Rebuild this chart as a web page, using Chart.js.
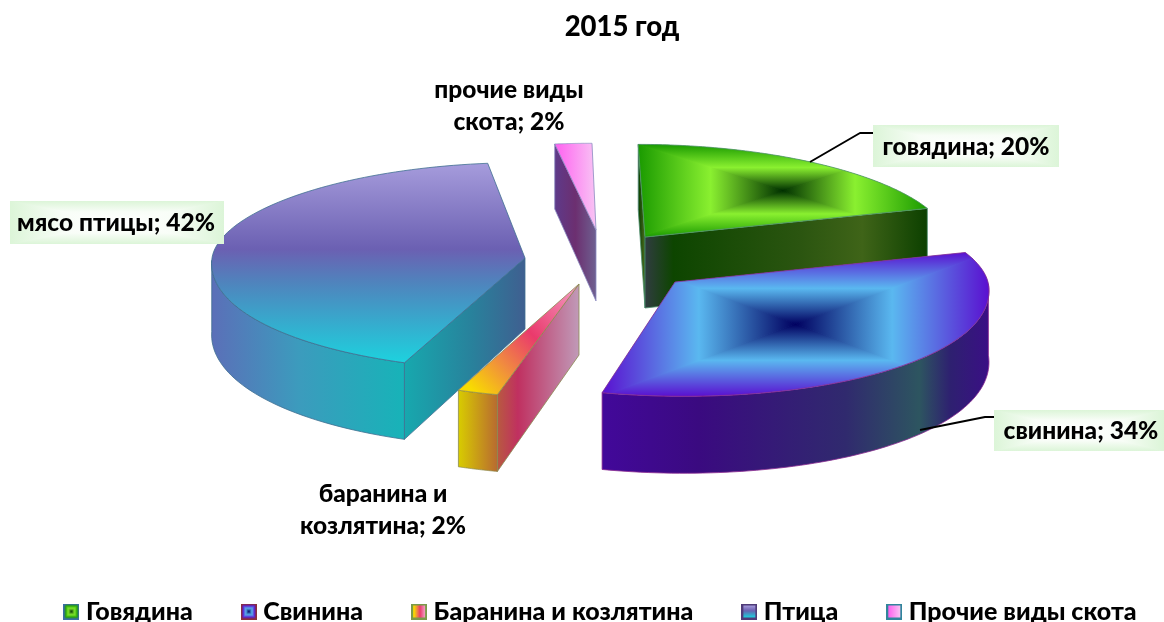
<!DOCTYPE html>
<html><head><meta charset="utf-8">
<style>html,body{margin:0;padding:0;background:#fff}canvas{display:block}</style>
<script src="https://cdn.jsdelivr.net/npm/chart.js@4"></script>
</head><body>
<canvas id="c" width="1164" height="622"></canvas>
<script>
const chartTitle = '2015 год';
const categories = ['Говядина','Свинина','Баранина и козлятина','Птица','Прочие виды скота'];
const shares = [20,34,2,42,2];
const pointNames = ['говядина','свинина','баранина и козлятина','мясо птицы','прочие виды скота'];
const baseColors = ['#3fae14','#4a6fe0','#e8604a','#6d62b4','#f878ee'];

const FONT = 'Lato, "Open Sans", sans-serif';
// exploded-slice look, applied on top of the arcs Chart.js computes
const sliceShift = [[39,-23],[69,22],[-27,24],[-81,-2],[-10,-30]];
const sliceScale = [0.97,1,1,1,1];
const sliceSkew  = [7,9,0,0,4];
const backTilt   = [0.305,0.305,0.305,0.305,0.277];
const frontTilt  = [0.365,0.365,0.365,0.36,0.365];
const drawOrder  = [4,0,3,2,1];
const looks = [
 {top:{ring:['#1a9a00','#8af030','#003000']}, wall:[[0,'#0c4000'],[.55,'#2b5510'],[.75,'#3f6418'],[1,'#0c4000']], cut:[[0,'#303c40'],[.1,'#0d4500'],[.55,'#2b5510'],[.77,'#3f6418'],[1,'#0c4000']], edge:'#4f8f70'},
 {top:{ring:['#5a10d0','#5ab8f0','#000060']}, wall:[[0,'#42089a'],[.25,'#3a0a80'],[.63,'#302a6e'],[.82,'#2d5560'],[.9,'#2e2070'],[1,'#3a0f85']], cut:[[0,'#3a0a80'],[1,'#3a0a80']], edge:'#8a2a90'},
 {top:{lin:[0.3,[[0.08,'#f8dc00'],[.33,'#f08a40'],[.58,'#ea3a6c'],[1,'#f4a0c8']]]}, wall:[[0,'#d8cc00'],[1,'#b86a30']], cut:[[0,'#b85a40'],[.25,'#c03060'],[1,'#c09ab8']], edge:'#8a8a50'},
 {top:{lin:[1,[[0,'#a69cdc'],[.43,'#6b60b2'],[.6,'#4f84bd'],[1,'#1dd2de']]]}, wall:[[0,'#5b6fb8'],[.45,'#3c9bbd'],[1,'#17b3b8']], cut:[[0,'#17a8ae'],[.55,'#28829c'],[1,'#3f5f90']], edge:'#3f6f90'},
 {top:{lin:[0,[[0,'#ff60f0'],[1,'#f8c4f4']]]}, wall:[[0,'#6c2f70'],[1,'#6c2f70']], cut:[[0,'#5e3a8a'],[.5,'#6c2f70'],[1,'#6e6090']], edge:'#8a8ac0'}
];
// label placement: [box x, y, w, h] or null, text centre, lines, leader
const labelBoxes = [[873,125,186,42],[994,410,170,41],null,[10,201,214,43],null];
const labelCentres = [[966,147],[1081,431],[383,494],[116,223],[509,90]];
const labelWrap = [[0],[0],['баранина и','козлятина; 2%'],[0],['прочие виды','скота; 2%']];
const leaders = [[[810,162],[860,133],[873,133]],[[920,430],[985,417],[994,417]],null,null,null];

function project(arc,i,a,z){
  const r=arc.outerRadius, s=sliceScale[i];
  const dx=r*Math.cos(a)*s, dy=r*Math.sin(a)*s;
  const q=dy/r, k=dy<0?backTilt[i]:frontTilt[i];
  return [arc.x+sliceShift[i][0]+dx*(1+0.05*q)+sliceSkew[i]*q,
          arc.y+sliceShift[i][1]+dy*k+z*(71+6*q)];
}
function apex(arc,i,z){
  return [arc.x+sliceShift[i][0], arc.y+sliceShift[i][1]+z*71];
}
function poly(ctx,pts){ctx.beginPath();pts.forEach((p,j)=>j?ctx.lineTo(p[0],p[1]):ctx.moveTo(p[0],p[1]));ctx.closePath();}
function bbox(pts){const xs=pts.map(p=>p[0]),ys=pts.map(p=>p[1]);return [Math.min(...xs),Math.min(...ys),Math.max(...xs),Math.max(...ys)];}
function xGrad(ctx,pts,stops){const b=bbox(pts);const g=ctx.createLinearGradient(b[0],0,b[2],0);stops.forEach(s=>g.addColorStop(s[0],s[1]));return g;}
function rectGradient(ctx,x0,y0,x1,y1,c){
  const cx=(x0+x1)/2,cy=(y0+y1)/2;
  ctx.fillStyle=c[1];ctx.fillRect(x0,y0,x1-x0,y1-y0);
  const tris=[[[x0,y0],[x1,y0],[cx,y0,cx,cy]],[[x1,y1],[x0,y1],[cx,y1,cx,cy]],[[x0,y0],[x0,y1],[x0,cy,cx,cy]],[[x1,y0],[x1,y1],[x1,cy,cx,cy]]];
  tris.forEach(t=>{
    const v=t[2];const g=ctx.createLinearGradient(v[0],v[1],v[2],v[3]);
    g.addColorStop(0,c[0]);g.addColorStop(.5,c[1]);g.addColorStop(1,c[2]);
    ctx.fillStyle=g;ctx.strokeStyle=g;ctx.lineWidth=1;
    ctx.beginPath();ctx.moveTo(t[0][0],t[0][1]);ctx.lineTo(t[1][0],t[1][1]);ctx.lineTo(cx,cy);ctx.closePath();ctx.fill();ctx.stroke();
  });
}
function cutVisible(A,P,M){
  const ex=P[0]-A[0],ey=P[1]-A[1];
  const inner=ex*(M[1]-A[1])-ey*(M[0]-A[0]);
  return inner*ex<0;
}
function drawSlice(ctx,arc,i){
  const L=looks[i], a0=arc.startAngle, a1=arc.endAngle, N=90;
  const rim=[];for(let j=0;j<=N;j++)rim.push(a0+(a1-a0)*j/N);
  const mid=project(arc,i,(a0+a1)/2,0);
  ctx.lineWidth=0.8;ctx.strokeStyle=L.edge;ctx.lineJoin='round';
  // cut faces that can be seen
  [a0,a1].forEach(a=>{
    const A=apex(arc,i,0),P=project(arc,i,a,0);
    if(!cutVisible(A,P,mid))return;
    const f=[A,P,project(arc,i,a,1),apex(arc,i,1)];
    poly(ctx,f);ctx.fillStyle=xGrad(ctx,f,L.cut);ctx.fill();ctx.stroke();
  });
  // outer wall, the part that faces the viewer
  const vis=rim.filter(a=>Math.sin(a)>=-0.001);
  if(vis.length>1){
    const w=vis.map(a=>project(arc,i,a,0)).concat(vis.slice().reverse().map(a=>project(arc,i,a,1)));
    poly(ctx,w);ctx.fillStyle=xGrad(ctx,w,L.wall);ctx.fill();ctx.stroke();
  }
  // top face
  const t=[apex(arc,i,0)].concat(rim.map(a=>project(arc,i,a,0)));
  const b=bbox(t);
  ctx.save();poly(ctx,t);ctx.clip();
  if(L.top.ring){rectGradient(ctx,b[0],b[1],b[2],b[3],L.top.ring);}
  else{
    const m=L.top.lin[0];
    const g=m===1?ctx.createLinearGradient(0,b[1],0,b[3])
         :m===0?ctx.createLinearGradient(b[0],0,b[2],0)
         :ctx.createLinearGradient(b[0],b[3],b[2],b[1]);
    L.top.lin[1].forEach(s=>g.addColorStop(s[0],s[1]));
    ctx.fillStyle=g;ctx.fillRect(b[0],b[1],b[2]-b[0],b[3]-b[1]);
  }
  ctx.restore();
  ctx.lineWidth=0.8;ctx.strokeStyle=L.edge;
  poly(ctx,t);ctx.stroke();
}
const labelPlugin={
  id:'pie3d',
  afterLayout(chart){
    chart.titleBlock.left-=29;chart.titleBlock.right-=29;
    const lg=chart.legend;lg.left-=48;lg.right-=48;lg.top+=84;lg.bottom+=84;
  },
  beforeDatasetDraw(chart,args){
    const ctx=chart.ctx,arcs=chart.getDatasetMeta(args.index).data;
    drawOrder.forEach(i=>drawSlice(ctx,arcs[i],i));
    return false;
  },
  afterDatasetsDraw(chart){
    const ctx=chart.ctx,d=chart.data.datasets[0].data;
    shares.forEach((v,i)=>{
      const ld=leaders[i];
      if(ld){ctx.beginPath();ld.forEach((p,j)=>j?ctx.lineTo(p[0],p[1]):ctx.moveTo(p[0],p[1]));ctx.strokeStyle='#000';ctx.lineWidth=2;ctx.stroke();}
      const bx=labelBoxes[i];
      if(bx){ctx.save();ctx.beginPath();ctx.rect(bx[0],bx[1],bx[2],bx[3]);ctx.clip();rectGradient(ctx,bx[0],bx[1],bx[0]+bx[2],bx[1]+bx[3],['#dcf5d8','#f8fdf7','#ffffff']);ctx.restore();}
      ctx.fillStyle='#000';ctx.font='900 24.5px '+FONT;ctx.textAlign='center';ctx.textBaseline='middle';
      const c=labelCentres[i],w=labelWrap[i];
      const lines=w[0]===0?[pointNames[i]+'; '+d[i]+'%']:w;
      lines.forEach((s,j)=>ctx.fillText(s,c[0],c[1]+j*32));
    });
  }
};
function icon(i){
  const cv=document.createElement('canvas');cv.width=16;cv.height=16;const x=cv.getContext('2d');
  const bd=['#3b6ea5','#8b2f3a','#7a9a4a','#4f3b78','#31859c'][i];
  x.fillStyle=bd;x.fillRect(0,0,16,16);
  const T=looks[i].top;
  if(T.ring){rectGradient(x,2,2,14,14,T.ring);}
  else{const m=T.lin[0];const g=m===1?x.createLinearGradient(0,2,0,14):x.createLinearGradient(2,0,14,0);
    T.lin[1].forEach(s=>g.addColorStop(s[0],s[1]));x.fillStyle=g;x.fillRect(2,2,12,12);}
  return cv;
}
new Chart(document.getElementById('c'),{
  type:'pie',
  data:{labels:categories,datasets:[{data:shares,backgroundColor:baseColors,borderWidth:0}]},
  plugins:[labelPlugin],
  options:{
    responsive:false,animation:false,radius:313,
    layout:{padding:{left:48,right:-90,top:0,bottom:72}},
    plugins:{
      tooltip:{enabled:false},
      title:{display:true,text:chartTitle,color:'#000',font:{family:FONT,size:27.5,weight:'900'},padding:{top:11,bottom:15}},
      legend:{position:'bottom',labels:{color:'#000',font:{family:FONT,size:25,weight:'900'},usePointStyle:true,pointStyleWidth:4,padding:54,
        generateLabels(chart){return Chart.overrides.doughnut.plugins.legend.labels.generateLabels(chart).map((it,i)=>Object.assign(it,{pointStyle:icon(i)}));}}}
    }
  }
});
</script>
</body></html>
